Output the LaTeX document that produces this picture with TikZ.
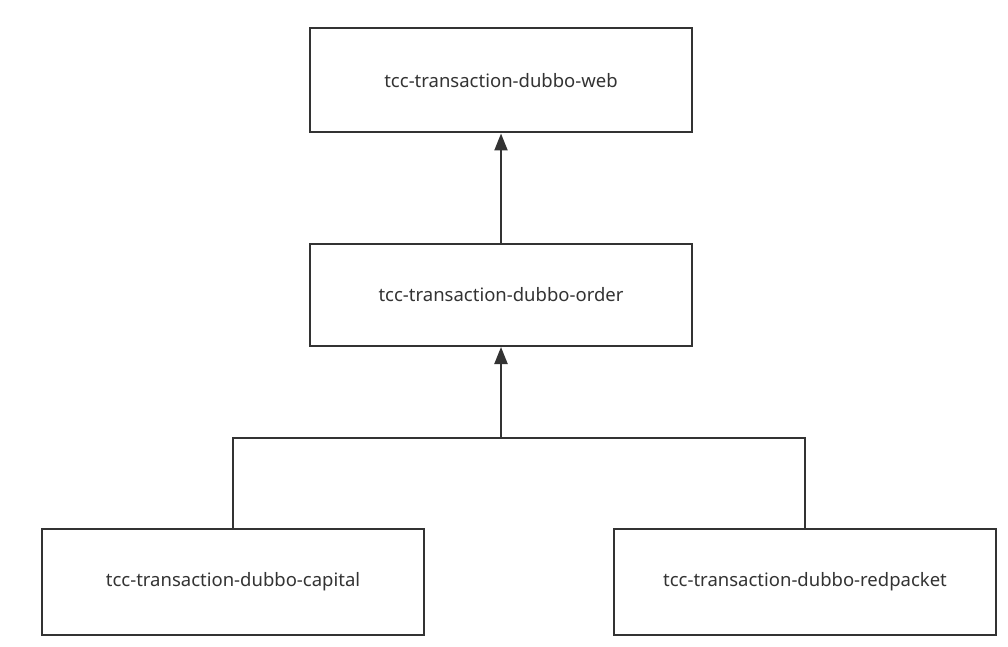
\documentclass[tikz,border=0pt]{standalone}
\usepackage{fontspec}
\setmainfont{Noto Sans}
\usetikzlibrary{arrows.meta}

\definecolor{linegray}{HTML}{333333}
\tikzset{
  module/.style={draw=linegray, line width=2pt, minimum width=382pt, minimum height=104pt,
    inner sep=0pt, font=\fontsize{18.5}{22}\selectfont, text=linegray},
  link/.style={draw=linegray, line width=2.2pt},
  uparrow/.style={link, -{Triangle[length=17pt,width=13pt]}}
}

\begin{document}
\begin{tikzpicture}[x=1pt,y=-1pt]
  \useasboundingbox (0,0) rectangle (1008,647);
  % modules
  \node[module] (web) at (501,80.5) {tcc-transaction-dubbo-web};
  \node[module, minimum height=102pt] (order) at (501,295) {tcc-transaction-dubbo-order};
  \node[module, minimum height=106pt] (capital) at (233,582) {tcc-transaction-dubbo-capital};
  \node[module, minimum height=106pt] (redpacket) at (805,582) {tcc-transaction-dubbo-redpacket};
  % dependencies
  \coordinate (join) at (501,438);
  \draw[link] (capital.north) |- (join) -| (redpacket.north);
  \draw[uparrow] (join) -- (order.south);
  \draw[uparrow] (order.north) -- (web.south);
\end{tikzpicture}
\end{document}
